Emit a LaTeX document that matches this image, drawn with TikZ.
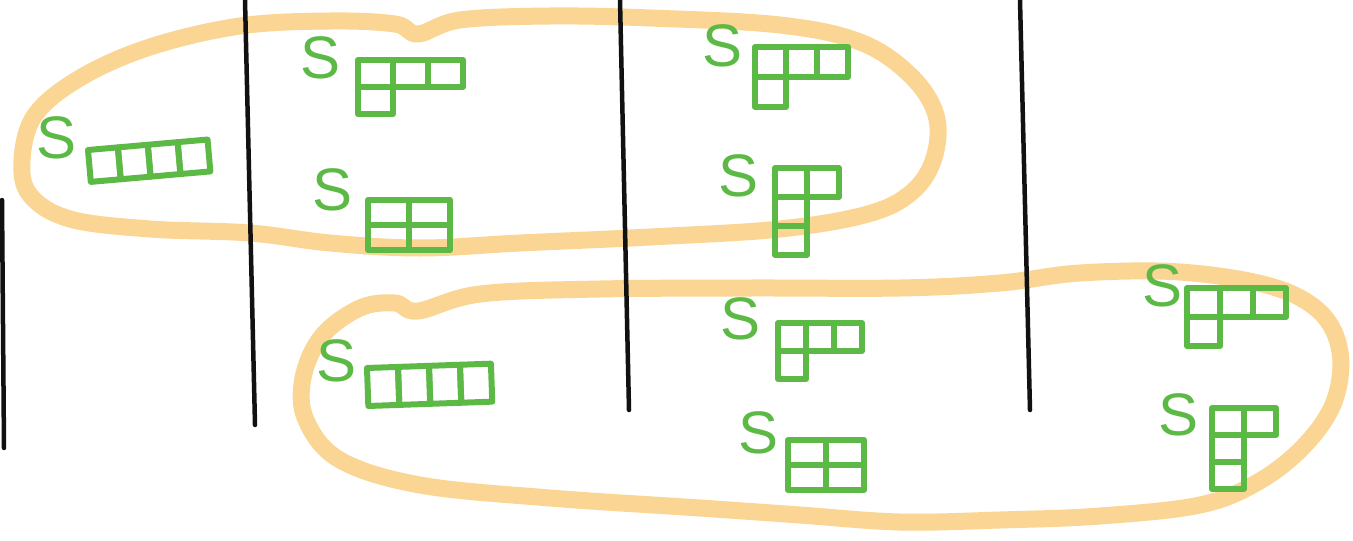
\documentclass[tikz,border=0pt]{standalone}
\usepackage{fontspec}
\setsansfont{Liberation Sans}
\definecolor{loopband}{HTML}{FAD594}
\definecolor{tableaugreen}{HTML}{5CB946}
\definecolor{wallink}{HTML}{111111}

% one Young diagram, drawn from its top left corner
% #1 = cell width, #2 = cell height, #3 = row lengths
\newcommand{\youngdiag}[3]{%
  \foreach \rowlen [count=\rowidx from 0] in {#3}
    \foreach \colidx in {1,...,\rowlen}
      \draw[cell] ({(\colidx-1)*#1},{\rowidx*#2}) rectangle ++(#1,#2);
}

\begin{document}
\begin{tikzpicture}[
  x=1pt,
  y=-1pt,
  loopline/.style={loopband, line width=17pt, line cap=round, line join=round},
  wall/.style={wallink, line width=4.5pt, line cap=round},
  cell/.style={tableaugreen, line width=6pt, line cap=round, line join=round},
  sym/.style={tableaugreen, inner sep=0pt,
              font=\sffamily\fontsize{60}{60}\selectfont}
]
  \useasboundingbox (0,0) rectangle (1353,541);

  %% ---- the two orange loops -------------------------------------------
  \draw[loopline] plot[smooth cycle, tension=0.6] coordinates {
    (418,34) (460,20) (550,16) (650,18) (780,25) (860,42) (910,75)
    (936,115) (934,158) (912,192) (868,214) (780,229) (650,237)
    (520,243) (420,248) (330,243) (250,233) (150,229) (70,219)
    (30,195) (22,160) (35,115) (80,78) (150,47) (240,26) (330,21)
    (395,24)};
  \draw[loopline] plot[smooth cycle, tension=0.6] coordinates {
    (418,311) (480,294) (600,289) (750,288) (900,288) (1000,283)
    (1080,273) (1180,272) (1270,286) (1320,312) (1340,352) (1334,402)
    (1304,446) (1258,482) (1200,505) (1100,516) (1000,520) (900,522)
    (800,515) (700,508) (550,498) (420,485) (340,460) (306,420)
    (303,378) (322,336) (360,308) (395,303)};

  %% ---- black dividing lines -------------------------------------------
  \draw[wall] (2,200) -- (4,448);
  \draw[wall] (245,0) -- (255,425);
  \draw[wall] (620,0) -- (629,410);
  \draw[wall] (1020,0) -- (1030,410);

  %% ---- labels ---------------------------------------------------------
  \node[sym] (s1) at (57,138) {S};
  \node[sym] (s2) at (321,58) {S};
  \node[sym] (s3) at (333,190) {S};
  \node[sym] (s4) at (723,46) {S};
  \node[sym] (s5) at (739,176) {S};
  \node[sym] (s6) at (337,361) {S};
  \node[sym] (s7) at (741,319) {S};
  \node[sym] (s8) at (759,433) {S};
  \node[sym] (s9) at (1162,286) {S};
  \node[sym] (s10) at (1178,415) {S};

  %% ---- the diagrams ---------------------------------------------------
  \begin{scope}[shift={(88,150)}, rotate=5]
    \youngdiag{30}{32}{4}
  \end{scope}
  \begin{scope}[shift={(358,60)}]
    \youngdiag{35}{27}{3,1}
  \end{scope}
  \begin{scope}[shift={(368,200)}]
    \youngdiag{41}{25}{2,2}
  \end{scope}
  \begin{scope}[shift={(755,47)}]
    \youngdiag{31}{30}{3,1}
  \end{scope}
  \begin{scope}[shift={(775,168)}]
    \youngdiag{32}{29}{2,1,1}
  \end{scope}
  \begin{scope}[shift={(367,368)}, rotate=2]
    \youngdiag{31}{38}{4}
  \end{scope}
  \begin{scope}[shift={(778,323)}]
    \youngdiag{28}{28}{3,1}
  \end{scope}
  \begin{scope}[shift={(788,440)}]
    \youngdiag{38}{25}{2,2}
  \end{scope}
  \begin{scope}[shift={(1187,288)}]
    \youngdiag{33}{29}{3,1}
  \end{scope}
  \begin{scope}[shift={(1212,408)}]
    \youngdiag{32}{27}{2,1,1}
  \end{scope}

\end{tikzpicture}
\end{document}
